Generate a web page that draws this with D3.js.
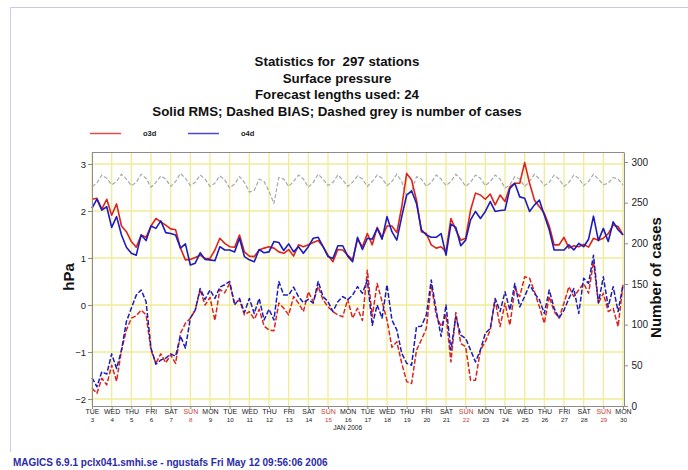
<!DOCTYPE html>
<html>
<head>
<meta charset="utf-8">
<script src="https://cdn.jsdelivr.net/npm/d3@7"></script>
<style>
  html, body { margin: 0; padding: 0; background: #fff; }
  svg { display: block; font-family: "Liberation Sans", Arial, Helvetica, sans-serif; }
</style>
</head>
<body>
<svg id="chart" width="688" height="470"></svg>
<script>
// ---- text ----
const titleLines = [
  "Statistics for  297 stations",
  "Surface pressure",
  "Forecast lengths used: 24",
  "Solid RMS; Dashed BIAS; Dashed grey is number of cases"
];
const footerText = "MAGICS 6.9.1 pclx041.smhi.se - ngustafs Fri May 12 09:56:06 2006";
const seriesNames = ["o3d", "o4d"];

// ---- axis labels ----
const dayNames = ["TUE","WED","THU","FRI","SAT","SUN","MON",
                  "TUE","WED","THU","FRI","SAT","SUN","MON",
                  "TUE","WED","THU","FRI","SAT","SUN","MON",
                  "TUE","WED","THU","FRI","SAT","SUN","MON"];
const dayNumbers = [3,4,5,6,7,8,9,10,11,12,13,14,15,16,17,18,19,20,21,22,23,24,25,26,27,28,29,30];
const monthLabel = "JAN 2006";
const monthLabelDay = 16;
const hpaTicks = [-2, -1, 0, 1, 2, 3];
const caseTicks = [0, 50, 100, 150, 200, 250, 300];

// ---- 6-hourly values, 3 Jan 00 UTC .. 30 Jan 00 UTC ----
const o3dRms = [
  2.25, 2.27, 2.04, 2.25, 1.91, 2.15, 1.68, 1.56, 1.35, 1.23, 1.49, 1.44, 1.68, 1.84, 1.77, 1.70,
  1.62, 1.60, 1.21, 0.96, 0.97, 1.01, 1.06, 0.99, 0.99, 1.17, 1.42, 1.31, 1.24, 1.23, 1.49, 1.13,
  1.04, 1.03, 1.17, 1.21, 1.24, 1.21, 1.13, 1.10, 1.18, 1.04, 1.28, 1.24, 1.28, 1.33, 1.37, 1.24,
  1.06, 0.92, 1.18, 1.17, 1.06,
  0.96, 1.40, 1.24, 1.52, 1.28, 1.65, 1.44, 1.68, 1.68, 1.54, 2.09, 2.80, 2.66, 2.23, 1.56, 1.52,
  1.28, 1.21, 1.24, 1.13, 1.84, 1.60, 1.38, 1.42, 2.02, 2.38, 2.34, 2.25, 2.36, 2.13, 2.34, 2.20,
  2.52, 2.59, 2.59, 3.03, 2.59, 2.23, 2.09, 1.95, 1.68, 1.28, 1.28, 1.44, 1.21, 1.26, 1.24, 1.29,
  1.23, 1.42, 1.38, 1.42, 1.52, 1.70, 1.67, 1.49
];
const o4dRms = [
  2.06, 2.25, 2.02, 2.09, 1.65, 1.88, 1.49, 1.23, 1.10, 1.06, 1.49, 1.37, 1.68, 1.63, 1.79, 1.54,
  1.52, 1.49, 1.21, 1.30, 0.85, 0.89, 1.11, 0.97, 0.96, 0.94, 1.24, 1.17, 1.17, 1.13, 1.42, 1.03,
  0.96, 0.92, 1.18, 1.11, 1.13, 1.35, 1.33, 1.16, 1.30, 1.13, 1.24, 1.10, 1.24, 1.42, 1.44, 1.24,
  1.03, 0.99, 1.26, 1.26, 1.04,
  0.92, 1.44, 1.18, 1.42, 1.40, 1.63, 1.40, 1.88, 1.56, 1.38, 1.88, 2.34, 2.43, 2.16, 1.60, 1.49,
  1.44, 1.44, 1.52, 1.06, 1.72, 1.65, 1.26, 1.38, 1.81, 1.99, 1.84, 1.99, 2.20, 1.99, 2.01, 2.02,
  2.48, 2.59, 2.30, 2.27, 1.99, 2.13, 2.23, 1.91, 1.60, 1.17, 1.17, 1.17, 1.28, 1.17, 1.31, 1.24,
  1.40, 1.89, 1.37, 1.63, 1.35, 1.77, 1.60, 1.49
];
const o3dBias = [
  -1.77, -1.88, -1.56, -1.70, -1.28, -1.62, -0.96, -0.53, -0.28, -0.23, -0.11, -0.21, -0.96, -1.24, -1.04, -1.23,
  -1.06, -1.24, -0.60, -0.39, -0.28, -0.11, 0.32, 0.00, 0.16, -0.33, 0.33, 0.26, 0.46, 0.04, 0.11, -0.21,
  -0.14, -0.30, -0.09, -0.45, -0.53, -0.55, 0.04, -0.07, -0.21, 0.18, 0.04, -0.14, 0.28, 0.07, 0.39, 0.11,
  -0.04, -0.14, -0.21, -0.25, 0.12,
  -0.28, -0.07, -0.33, 0.74, -0.25, 0.46, 0.07, -0.32, -0.90, -0.78, -1.24, -1.63, -1.67, -0.96, -0.74, -0.50,
  0.43, -0.21, -0.46, -0.21, -1.21, -0.16, -0.82, -0.89, -1.60, -1.60, -0.96, -0.78, -0.53, 0.11, -0.46, 0.04,
  -0.43, 0.35, 0.18, 0.60, 0.57, 0.28, -0.04, -0.39, 0.18, -0.14, -0.28, 0.04, 0.39, 0.18, 0.32, 0.46,
  0.25, 0.92, 0.04, 0.25, -0.14, -0.07, -0.46, 0.43
];
const o4dBias = [
  -1.55, -1.74, -1.42, -1.47, -1.04, -1.35, -0.96, -0.35, -0.07, 0.21, 0.32, 0.07, -0.92, -1.26, -1.17, -1.13,
  -1.04, -1.09, -0.66, -0.92, -0.28, -0.11, 0.35, 0.12, 0.32, 0.14, 0.38, 0.43, 0.50, 0.00, 0.14, -0.16,
  0.14, -0.18, 0.14, -0.32, -0.09, -0.32, 0.50, 0.21, 0.21, 0.38, 0.18, 0.05, 0.12, 0.04, 0.50, 0.18,
  0.07, -0.14, 0.07, 0.18, 0.11,
  0.21, 0.39, 0.25, 0.53, -0.43, 0.00, -0.28, 0.43, -0.32, -0.53, -1.03, -1.24, -1.28, -0.46, -0.45, -0.21,
  0.53, -0.11, -0.67, 0.00, -0.96, -0.25, -0.64, -0.71, -0.96, -1.21, -0.96, -0.60, -0.50, 0.14, -0.14, 0.28,
  -0.11, 0.46, -0.04, 0.18, 0.43, 0.25, 0.11, -0.18, 0.32, -0.07, -0.28, -0.11, 0.14, 0.35, -0.18, 0.57,
  0.46, 1.06, 0.04, 0.60, -0.04, 0.39, -0.14, 0.43
];
const numCases = [
  270, 274, 284, 280, 272, 276, 285, 279, 271, 275, 285, 280, 269, 275, 283, 279,
  270, 276, 286, 280, 271, 275, 284, 279, 270, 274, 283, 278, 268, 273, 282, 275,
  263, 265, 279, 276, 264, 249, 281, 279, 270, 276, 284, 279, 269, 275, 285, 279,
  271, 275, 284, 278, 270, 275, 283, 279, 270, 276, 284, 280, 271, 276, 285, 276,
  258, 264, 282, 279, 270, 275, 284, 279, 271, 276, 285, 279, 270, 275, 284, 280,
  271, 276, 284, 279, 268, 272, 282, 279, 270, 276, 285, 279, 271, 275, 284, 279,
  270, 275, 284, 280, 271, 276, 285, 279, 272, 274, 281, 279, 272
];

// ---- layout ----
const svg = d3.select("#chart");
const plot = { left: 92, right: 624, top: 152, bottom: 406 };
const colors = { o3d: "#dd2418", o4d: "#1c1cbe", cases: "#a9a9a9", grid: "#f0ec96", axis: "#8c8c8c" };
const sunColor = "#c8403a";

const t0 = Date.UTC(2006, 0, 3);
const stepMs = 6 * 3600 * 1000;
const times = o3dRms.map((_, i) => new Date(t0 + i * stepMs));
const dayDates = dayNumbers.map(d => new Date(Date.UTC(2006, 0, d)));

const x = d3.scaleUtc()
  .domain([dayDates[0], dayDates[dayDates.length - 1]])
  .range([plot.left, plot.right - 1]);
const yL = d3.scaleLinear().domain([-2.149, 3.255]).range([plot.bottom, plot.top]);
const yR = d3.scaleLinear().domain([0, 312.3]).range([plot.bottom, plot.top]);

// page frame
svg.append("path")
  .attr("d", "M10.5,452 L10.5,7.5 L688,7.5")
  .attr("fill", "none").attr("stroke", "#c9c9ea").attr("stroke-width", 1);

// titles
svg.append("g").selectAll("text").data(titleLines).join("text")
  .attr("x", 337).attr("y", (d, i) => 66 + i * 16.7)
  .attr("text-anchor", "middle")
  .style("white-space", "pre")
  .attr("font-size", 13.3).attr("font-weight", "bold").attr("fill", "#111")
  .text(d => d);

// legend
const legend = svg.append("g");
[[seriesNames[0], colors.o3d, 90], [seriesNames[1], colors.o4d, 188]].forEach(([name, c, lx]) => {
  legend.append("line").attr("x1", lx).attr("x2", lx + 31).attr("y1", 133.5).attr("y2", 133.5)
    .attr("stroke", c).attr("stroke-width", 1.5).attr("opacity", 0.8);
  legend.append("text").attr("x", lx + 53).attr("y", 136.3)
    .attr("font-size", 7.5).attr("font-weight", "bold").attr("fill", "#222").text(name);
});

// grid
const grid = svg.append("g");
grid.selectAll("line.v").data(dayDates).join("line").attr("class", "v")
  .attr("x1", d => x(d)).attr("x2", d => x(d))
  .attr("y1", plot.top).attr("y2", plot.bottom)
  .attr("stroke", colors.grid).attr("stroke-width", 1.3);
grid.selectAll("line.h").data(hpaTicks).join("line").attr("class", "h")
  .attr("x1", plot.left).attr("x2", plot.right)
  .attr("y1", d => yL(d)).attr("y2", d => yL(d))
  .attr("stroke", colors.grid).attr("stroke-width", 1.3);

// plot frame top
svg.append("line").attr("x1", plot.left).attr("x2", plot.right)
  .attr("y1", plot.top + 0.5).attr("y2", plot.top + 0.5)
  .attr("stroke", colors.axis).attr("stroke-width", 1);

// series
const lineL = vals => d3.line().x((d, i) => x(times[i])).y(d => yL(d))(vals);
const lineR = vals => d3.line().x((d, i) => x(times[i])).y(d => yR(d))(vals);

const series = svg.append("g").attr("fill", "none").attr("stroke-linejoin", "round");
series.append("path").attr("d", lineR(numCases))
  .attr("stroke", colors.cases).attr("stroke-width", 1.2).attr("stroke-dasharray", "4,2");
series.append("path").attr("d", lineL(o3dRms))
  .attr("stroke", colors.o3d).attr("stroke-width", 1.6);
series.append("path").attr("d", lineL(o4dRms))
  .attr("stroke", colors.o4d).attr("stroke-width", 1.6);
series.append("path").attr("d", lineL(o3dBias))
  .attr("stroke", colors.o3d).attr("stroke-width", 1.5).attr("stroke-dasharray", "5,2");
series.append("path").attr("d", lineL(o4dBias))
  .attr("stroke", colors.o4d).attr("stroke-width", 1.5).attr("stroke-dasharray", "5,2");

// axes
function styleAxis(g) {
  g.select(".domain").attr("stroke", colors.axis);
  g.selectAll(".tick line").attr("stroke", colors.axis);
  g.selectAll("text").attr("fill", "#222").attr("font-family", null);
}

svg.append("g").attr("transform", `translate(${plot.left},0)`)
  .call(d3.axisLeft(yL).tickValues(hpaTicks).tickSize(4).tickSizeOuter(0).tickPadding(2)
    .tickFormat(d3.format("d")))
  .call(styleAxis)
  .call(g => g.selectAll("text").attr("font-size", 9.5));

svg.append("g").attr("transform", `translate(${plot.right},0)`)
  .call(d3.axisRight(yR).tickValues(caseTicks).tickSize(4).tickSizeOuter(0).tickPadding(3.5))
  .call(styleAxis)
  .call(g => g.selectAll("text").attr("font-size", 10));

// day axis: weekday on the first row, date on the second
const xAxis = svg.append("g").attr("transform", `translate(0,${plot.bottom})`)
  .call(d3.axisBottom(x).tickValues(dayDates).tickSize(3).tickSizeOuter(0)
    .tickFormat((d, i) => dayNames[i]))
  .call(styleAxis);
xAxis.selectAll(".tick text").attr("y", 7.6).attr("dy", null)
  .attr("font-size", 7)
  .attr("fill", (d, i) => dayNames[i] === "SUN" ? sunColor : "#222");
xAxis.selectAll(".tick").append("text")
  .attr("y", 15.8).attr("text-anchor", "middle")
  .attr("font-size", 6.2)
  .attr("fill", (d, i) => dayNames[i] === "SUN" ? sunColor : "#222")
  .text((d, i) => dayNumbers[i]);
svg.append("text")
  .attr("x", x(new Date(Date.UTC(2006, 0, monthLabelDay)))).attr("y", 430)
  .attr("text-anchor", "middle").attr("font-size", 6.6).attr("fill", "#222")
  .text(monthLabel);

// axis titles
svg.append("text").attr("transform", "translate(74,277) rotate(-90)")
  .attr("text-anchor", "middle").attr("font-size", 15).attr("font-weight", "bold")
  .attr("fill", "#111").text("hPa");
svg.append("text").attr("transform", "translate(661,277.5) rotate(-90)")
  .attr("text-anchor", "middle").attr("font-size", 15).attr("font-weight", "bold")
  .attr("fill", "#111").text("Number of cases");

// footer
svg.append("text").attr("x", 13).attr("y", 466)
  .attr("font-size", 10).attr("font-weight", "bold").attr("fill", "#2b2ba8")
  .text(footerText);
</script>
</body>
</html>
